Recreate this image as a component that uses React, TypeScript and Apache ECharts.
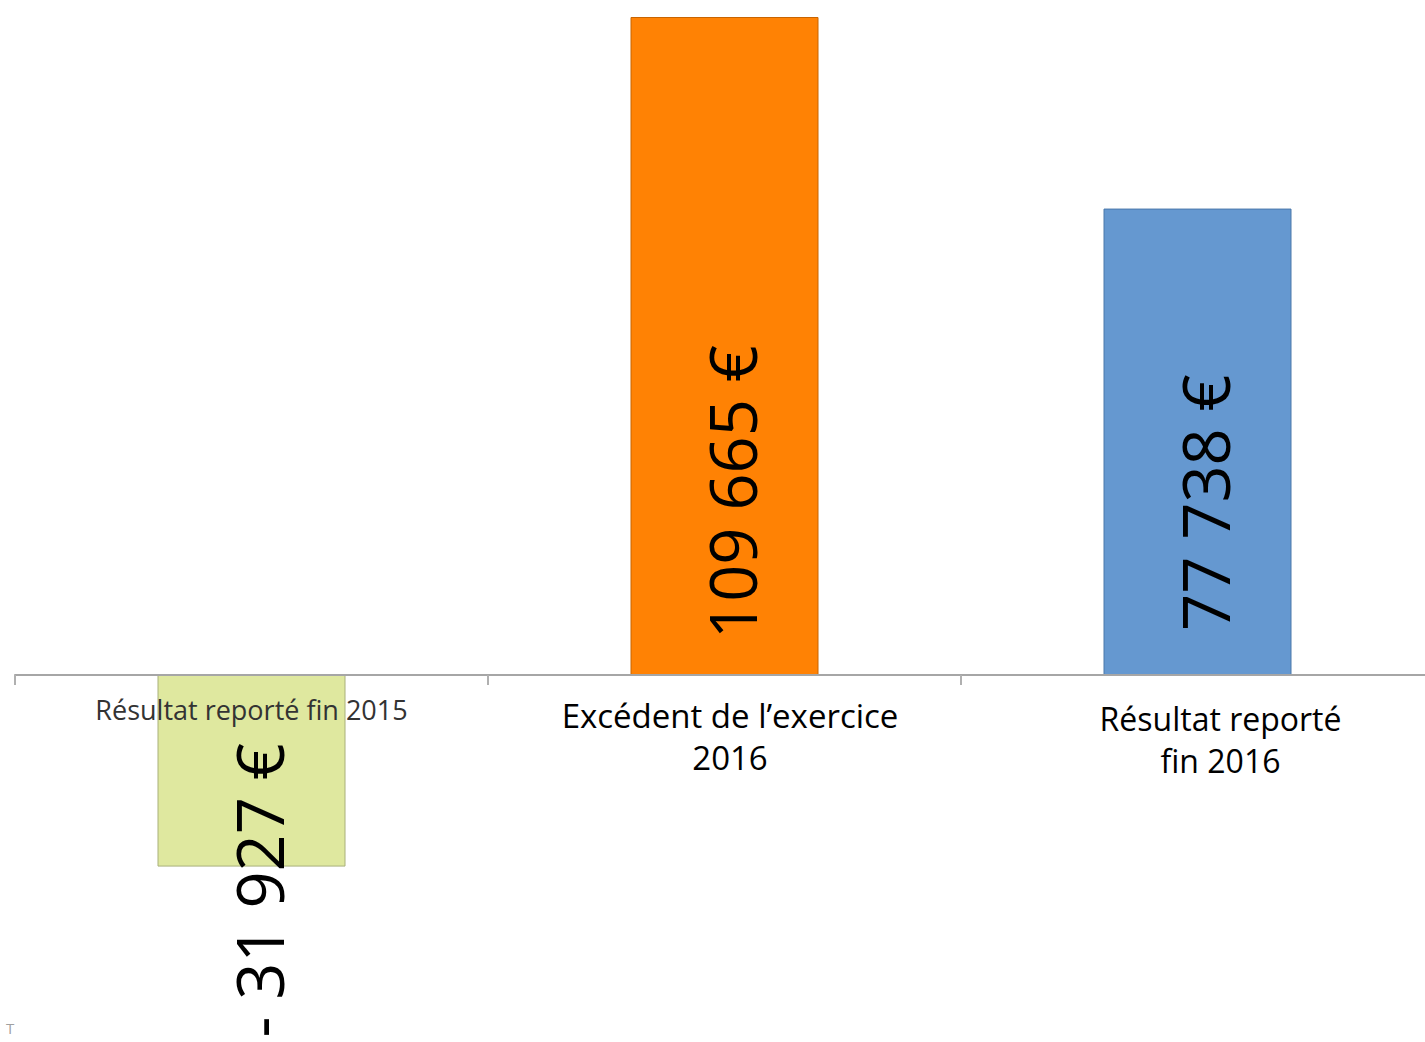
import React, { useEffect, useRef } from "react";
import * as echarts from "echarts";

const categories = ["Résultat reporté fin 2015", "Excédent de l’exercice\n2016", "Résultat reporté\nfin 2016"];
const values = [-31927, 109665, 77738];
const valueLabels = ["- 31 927 €", "109 665 €", "77 738 €"];
const barColors = ["#dfe89f", "#ff8204", "#6598d0"];
const borderColors = ["#a9b07a", "#c86400", "#4a78aa"];

export default function App() {
  const ref = useRef<HTMLDivElement>(null);
  useEffect(() => {
    const chart = echarts.init(ref.current!, null, { renderer: "svg" });
    const font = "'Open Sans', 'Liberation Sans', sans-serif";
    const labelStyles = [
      { fontSize: 27, color: "#333333", padding: [2, 0, 0, 0] },
      { fontSize: 33, color: "#000000", lineHeight: 42, padding: [0, 0, 0, 11] },
      { fontSize: 32, color: "#000000", lineHeight: 42, padding: [3, 0, 0, 46] },
    ];
    chart.setOption({
      animation: false,
      backgroundColor: "#ffffff",
      grid: { left: 15, width: 1419, top: 17, bottom: 367, containLabel: false, outerBoundsMode: "none" },
      graphic: [
        {
          type: "text",
          left: 6,
          top: 1020,
          style: { text: "T", fontSize: 15, fill: "#a0a0a0", fontFamily: font },
        },
      ],
      xAxis: {
        type: "category",
        z: 5,
        data: categories.map((c, i) => ({ value: c, textStyle: labelStyles[i] })),
        axisLine: { onZero: true, lineStyle: { color: "#a6a6a6", width: 2 } },
        axisTick: { show: true, length: 10, lineStyle: { color: "#b0b0b0", width: 2 } },
        axisLabel: { interval: 0, margin: 19, fontFamily: font },
        splitLine: { show: false },
      },
      yAxis: {
        type: "value",
        show: false,
        min: 0,
        max: 109665,
        splitLine: { show: false },
      },
      series: [
        {
          type: "bar",
          barWidth: 188,
          clip: false,
          z: 1,
          data: values.map((v, i) => ({
            value: v,
            itemStyle: { color: barColors[i], borderColor: borderColors[i], borderWidth: 1 },
            label: {
              show: true,
              formatter: valueLabels[i],
              rotate: 90,
              position: i === 0 ? "insideTop" : "insideBottom",
              distance: i === 0 ? 68 : i === 1 ? 36 : 44,
              align: i === 0 ? "right" : "left",
              verticalAlign: "middle",
              offset: [0, 7],
              fontSize: 65,
              fontFamily: font,
              color: "#000000",
            },
          })),
        },
      ],
    });
    return () => chart.dispose();
  }, []);
  return (
    <div
      ref={ref}
      style={{ position: "absolute", left: 0, top: 0, width: 1425, height: 1042 }}
    />
  );
}
